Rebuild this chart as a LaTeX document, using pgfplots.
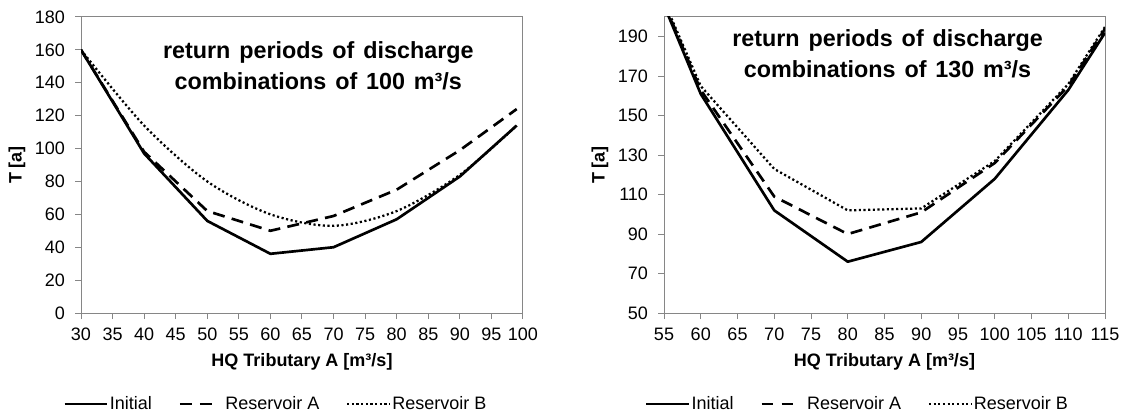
\documentclass[border=0pt]{standalone}
\usepackage{fontspec}
\setmainfont{Liberation Sans}
\usepackage{pgfplots}
\pgfplotsset{compat=1.18}
\definecolor{axgray}{RGB}{134,134,134}
\newcommand\ws{\hspace{0.38em}}
\tikzset{
  sInit/.style={black, line width=2pt, line join=round},
  sA/.style={black, line width=2pt, dash pattern=on 9pt off 5.5pt},
  sB/.style={black, line width=1.7pt, dash pattern=on 1.6pt off 1.9pt},
  ttl/.style={font=\fontsize{17.5}{23}\selectfont\bfseries, align=center},
}
\pgfplotsset{
  myax/.style={
    scale only axis, height=222pt,
    axis line style={axgray, line width=0.75pt},
    tick style={axgray, line width=0.75pt},
    tick align=outside, major tick length=4.5pt,
    xtick pos=bottom, ytick pos=left,
    tick label style={font=\fontsize{13.5}{15}\selectfont},
    yticklabel style={xshift=-4pt},
    xticklabel style={yshift=-3.5pt},
    /pgf/number format/assume math mode=true,
    every axis x label/.style={at={(axis description cs:0.5,-0.164)}, anchor=center, font=\fontsize{13.5}{15}\selectfont\bfseries},
    legend style={draw=none, fill=none, font=\fontsize{13.5}{15}\selectfont, legend columns=3, anchor=center,
      nodes={inner xsep=1pt},
      /tikz/every even column/.append style={column sep=19pt}},
    legend image code/.code={\draw[##1] (0pt,0pt) -- (32pt,0pt);},
    legend cell align=left,
  },
}
\begin{document}
\begin{tikzpicture}
\useasboundingbox (0,0) rectangle (850.5pt,-312.75pt);
\begin{axis}[myax, at={(60.75pt,-12.75pt)}, anchor=north west, width=331.5pt,
  xmin=30, xmax=100, ymin=0, ymax=180,
  xtick={30,35,...,100}, ytick={0,20,...,180},
  xlabel={HQ Tributary A [m³/s]},
  ylabel={T [a]},
  every axis y label/.style={at={(axis description cs:-0.145,0.5)}, rotate=90, anchor=center, font=\fontsize{13.5}{15}\selectfont\bfseries},
  legend style={at={(axis description cs:0.44,-0.307)}},
]
\addlegendimage{sInit}
\addlegendentry{Initial}
\addlegendimage{black, line width=2pt, dash pattern=on 8.8pt off 6.2pt on 8.8pt off 20pt}
\addlegendentry{Reservoir A}
\addlegendimage{sB}
\addlegendentry{Reservoir B}
\addplot[sInit, forget plot] coordinates {(30,160) (40,97) (50,56) (60,36) (70,40) (80,57) (90,83) (99,114)};
\addplot[sA, forget plot] coordinates {(30,160) (40,98) (50,62) (60,50) (70,59) (80,75) (90,99) (99,124)};
\addplot[sB, smooth, forget plot] coordinates {(30,160) (40,114) (50,80) (60,60) (70,53) (80,62) (90,84) (99,114)};
\node[ttl] at (rel axis cs:0.537,0.836) {return\ws periods\ws of\ws discharge\\combinations\ws of\ws 100\ws m³/s};
\end{axis}
\begin{axis}[myax, at={(498pt,-12.75pt)}, anchor=north west, width=330.75pt,
  xmin=55, xmax=115, ymin=50, ymax=200,
  xtick={55,60,...,115}, ytick={50,70,...,190},
  xlabel={HQ Tributary A [m³/s]},
  ylabel={T [a]},
  every axis y label/.style={at={(axis description cs:-0.145,0.5)}, rotate=90, anchor=center, font=\fontsize{13.5}{15}\selectfont\bfseries},
  legend style={at={(axis description cs:0.438,-0.307)}},
]
\addlegendimage{sInit}
\addlegendentry{Initial}
\addlegendimage{black, line width=2pt, dash pattern=on 8.8pt off 6.2pt on 8.8pt off 20pt}
\addlegendentry{Reservoir A}
\addlegendimage{sB}
\addlegendentry{Reservoir B}
\addplot[sInit, forget plot] coordinates {(55,206) (60,161) (70,102) (80,76) (90,86) (100,118) (110,163) (115,192)};
\addplot[sA, forget plot] coordinates {(55,207) (60,163) (70,109) (80,90) (90,101) (100,126) (110,165) (115,194)};
\addplot[sB, forget plot] coordinates {(55,208) (60,165) (70,123) (80,102) (90,103) (100,127) (110,166) (115,195)};
\node[ttl] at (rel axis cs:0.507,0.875) {return\ws periods\ws of\ws discharge\\combinations\ws of\ws 130\ws m³/s};
\end{axis}
\end{tikzpicture}
\end{document}
